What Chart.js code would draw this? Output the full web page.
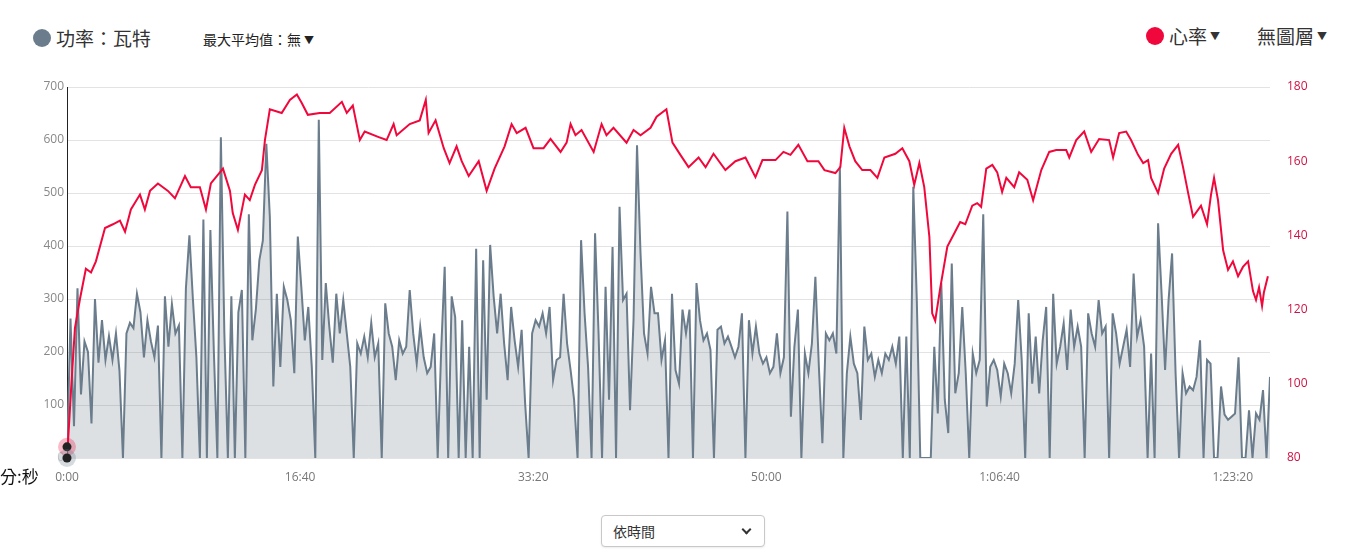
<!DOCTYPE html>
<html>
<head>
<meta charset="utf-8">
<script src="https://cdn.jsdelivr.net/npm/chart.js@4.4.1/dist/chart.umd.min.js"></script>
<style>
  body {
    margin: 0;
    width: 1345px;
    height: 555px;
    position: relative;
    overflow: hidden;
    background: #fff;
    font-family: "Noto Sans CJK TC", "Noto Sans", sans-serif;
    color: #222;
  }
  .legend { position: absolute; display: flex; align-items: center; white-space: nowrap; }
  .dot { width: 18px; height: 18px; border-radius: 50%; display: inline-block; margin-right: 5px; }
  .big { font-size: 19px; color: #333; }
  .small { font-size: 14px; }
  .arrow { font-size: 10px; margin-left: 3px; }
  #chartBox { position: absolute; left: 0; top: 70px; }
  #unit { position: absolute; left: 0; top: 463px; font-size: 17px; color: #111; }
  #mode {
    position: absolute; left: 601px; top: 515px; width: 164px; height: 32px;
    box-sizing: border-box; border: 1px solid #c8c8c8; border-radius: 4px;
    font-size: 14px; color: #333; padding: 5px 11px; background: #fff;
    box-shadow: 0 1px 2px rgba(0,0,0,0.08);
  }
  #mode .chev {
    position: absolute; right: 14px; top: 10px; width: 5px; height: 5px;
    border-right: 2px solid #333; border-bottom: 2px solid #333; transform: rotate(45deg);
  }
</style>
</head>
<body>
  <div class="legend big" style="left:33px; top:24px;">
    <span class="dot" style="background:#6b7d8c;"></span>功率：瓦特
  </div>
  <div class="legend small" style="left:203px; top:29px;">最大平均值：無<span class="arrow">▼</span></div>
  <div class="legend big" style="left:1146px; top:22px;">
    <span class="dot" style="background:#f0073b;"></span>心率<span class="arrow">▼</span>
  </div>
  <div class="legend big" style="left:1257px; top:22px;">無圖層<span class="arrow">▼</span></div>

  <canvas id="chartBox" width="1345" height="420"></canvas>
  <div id="unit">分:秒</div>
  <div id="mode">依時間<span class="chev"></span></div>

<script>
// power samples, one every POWER_STEP seconds from 0:00
const POWER_STEP = 15;
const powerWatts = [
  0, 263, 60, 320, 120, 220, 200, 65, 300, 180, 260, 185, 230, 185, 235, 165, 0, 235, 255, 245,
  310, 275, 190, 260, 220, 190, 250, 0, 305, 210, 290, 235, 250, 0, 320, 420, 300, 190, 0, 450,
  0, 430, 200, 0, 605, 235, 0, 305, 0, 275, 317, 0, 460, 222, 280, 373, 410, 593, 455, 135,
  310, 172, 323, 298, 260, 160, 418, 323, 222, 285, 172, 0, 638, 185, 330, 248, 180, 310, 235, 298,
  235, 172, 0, 216, 197, 229, 190, 255, 190, 216, 0, 292, 235, 210, 147, 222, 197, 210, 317, 235,
  178, 248, 190, 160, 172, 235, 0, 204, 361, 0, 305, 266, 0, 260, 0, 210, 0, 395, 0, 373,
  110, 402, 305, 235, 310, 216, 147, 285, 222, 172, 242, 103, 0, 235, 260, 248, 273, 235, 285, 147,
  185, 190, 310, 216, 166, 110, 0, 411, 273, 172, 0, 424, 235, 0, 323, 110, 398, 0, 474, 298,
  310, 90, 260, 590, 386, 235, 197, 323, 273, 273, 185, 222, 0, 310, 166, 140, 280, 235, 280, 0,
  330, 260, 222, 235, 204, 0, 242, 248, 216, 229, 210, 190, 210, 273, 0, 260, 197, 248, 197, 178,
  190, 160, 172, 235, 160, 190, 465, 78, 210, 280, 0, 197, 160, 216, 342, 172, 28, 235, 222, 235,
  197, 550, 0, 160, 229, 178, 160, 72, 248, 185, 197, 153, 185, 160, 197, 185, 210, 178, 229, 0,
  229, 0, 512, 298, 0, 0, 0, 0, 210, 84, 330, 110, 47, 367, 122, 160, 285, 160, 0, 197,
  160, 185, 460, 97, 172, 185, 166, 116, 178, 160, 122, 178, 298, 185, 0, 273, 140, 229, 122, 222,
  285, 0, 310, 178, 210, 254, 166, 280, 210, 248, 210, 0, 273, 235, 210, 298, 235, 248, 0, 273,
  235, 178, 210, 242, 172, 348, 229, 260, 210, 0, 197, 0, 443, 310, 166, 298, 386, 160, 0, 160,
  122, 135, 128, 153, 222, 0, 185, 178, 0, 0, 135, 82, 72, 78, 84, 190, 0, 0, 90, 0,
  84, 72, 128, 0, 153
];

// heart rate, read at irregular times (seconds)
const hrTimes = [
  0, 4, 17, 34, 56, 81, 103, 124, 163, 197, 227, 249, 274, 313, 334, 356, 390, 433, 463, 506,
  531, 570, 596, 617, 669, 699, 711, 733, 763, 784, 806, 836, 849, 870, 921, 956, 986, 1007, 1033, 1084,
  1127, 1179, 1200, 1226, 1256, 1277, 1337, 1371, 1401, 1414, 1470, 1513, 1539, 1551, 1581, 1616, 1641, 1671, 1693, 1723,
  1766, 1800, 1834, 1877, 1907, 1929, 1967, 2001, 2044, 2074, 2117, 2143, 2160, 2181, 2207, 2259, 2293, 2314, 2344, 2400,
  2430, 2460, 2503, 2529, 2571, 2597, 2631, 2666, 2709, 2739, 2773, 2824, 2867, 2910, 2953, 2983, 3039, 3073, 3103, 3137,
  3176, 3223, 3249, 3296, 3317, 3334, 3356, 3381, 3411, 3446, 3476, 3506, 3553, 3583, 3613, 3634, 3656, 3677, 3699, 3711,
  3724, 3746, 3776, 3806, 3831, 3853, 3883, 3904, 3921, 3943, 3969, 3990, 4011, 4029, 4063, 4084, 4119, 4144, 4179, 4213,
  4243, 4286, 4299, 4329, 4363, 4393, 4427, 4470, 4487, 4513, 4543, 4564, 4594, 4616, 4637, 4650, 4680, 4706, 4736, 4766,
  4787, 4809, 4830, 4864, 4890, 4907, 4920, 4937, 4959, 4980, 5001, 5023, 5044, 5066, 5087, 5100, 5113, 5126, 5134, 5151
];
const hrBpm = [
  83, 84, 98, 115, 123, 131, 130, 133, 142, 143, 144, 141, 147, 151, 147, 152, 154, 152, 150, 156,
  153, 153, 147, 154, 158, 152, 146, 141.5, 151, 149.5, 153.6, 157.6, 165.7, 174, 173, 176.5, 178, 175.7, 172.5, 173,
  173, 176, 173, 175, 165.7, 168, 166.5, 165.7, 170, 167, 170, 171, 176.5, 167.6, 171, 163.5, 159.5, 164, 160, 156,
  160, 152, 158, 164, 170, 167.6, 169, 163.5, 163.5, 166, 162.5, 165, 170, 167, 168.4, 162.5, 170, 167, 169, 165,
  168.4, 167, 169, 172, 174, 165, 161.7, 158.4, 161, 158.4, 162, 157.6, 160, 161, 155.7, 160.3, 160.3, 162.5, 161.7, 164.4,
  160, 160, 157.6, 156.8, 158.4, 169, 164, 160, 157.6, 157.6, 155.5, 161, 162, 163.5, 160, 153.6, 159.5, 153, 139.6, 119,
  117, 126, 137, 140.6, 143.6, 143, 148, 148.7, 147.7, 158, 159, 157, 151.7, 155.5, 153, 157, 155, 149.5, 157.6, 162.5,
  163, 163, 161, 165.7, 168, 162.5, 166, 165.7, 161, 167.6, 168, 165.7, 161.7, 159.5, 160.3, 155.5, 151.4, 158, 162, 164.4,
  158.4, 151.4, 145, 148, 143, 151, 155.5, 149.5, 136, 130.7, 133, 129, 131.5, 133, 125, 122.6, 126, 121, 124.7, 129
];

const powerTicks = [0, 100, 200, 300, 400, 500, 600, 700];
const hrTicks = [80, 100, 120, 140, 160, 180];
const timeTicks = [0, 1000, 2000, 3000, 4000, 5000];

const POWER_LINE = "#6b7d8c";
const POWER_FILL = "rgba(107,125,140,0.24)";
const HR_LINE = "#f0073b";
const TICK_FONT = { family: "'Open Sans', 'Noto Sans', sans-serif", size: 12 };

function formatTime(sec) {
  const h = Math.floor(sec / 3600);
  const m = Math.floor((sec % 3600) / 60);
  const s = Math.round(sec % 60);
  const ss = String(s).padStart(2, "0");
  if (h > 0) return h + ":" + String(m).padStart(2, "0") + ":" + ss;
  return m + ":" + ss;
}

// hover-style markers at the first sample of each series
const startMarkers = {
  id: "startMarkers",
  afterDatasetsDraw(chart) {
    const ctx = chart.ctx;
    chart.data.datasets.forEach((ds, i) => {
      const pt = chart.getDatasetMeta(i).data[0];
      if (!pt) return;
      ctx.save();
      ctx.fillStyle = ds.haloColor;
      ctx.beginPath();
      ctx.arc(pt.x, pt.y, 9, 0, Math.PI * 2);
      ctx.fill();
      ctx.fillStyle = "#222";
      ctx.beginPath();
      ctx.arc(pt.x, pt.y, 4.5, 0, Math.PI * 2);
      ctx.fill();
      ctx.restore();
    });
  },
};

const ctx = document.getElementById("chartBox");

new Chart(ctx, {
  type: "line",
  data: {
    datasets: [
      {
        label: "心率",
        data: hrTimes.map((t, i) => ({ x: t, y: hrBpm[i] })),
        yAxisID: "yHr",
        borderColor: HR_LINE,
        borderWidth: 2,
        pointRadius: 0,
        tension: 0,
        fill: false,
        haloColor: "rgba(240,7,59,0.28)",
      },
      {
        label: "功率",
        data: powerWatts.map((w, i) => ({ x: i * POWER_STEP, y: w })),
        yAxisID: "yPower",
        borderColor: POWER_LINE,
        backgroundColor: POWER_FILL,
        borderWidth: 2,
        pointRadius: 0,
        tension: 0,
        fill: "start",
        haloColor: "rgba(107,125,140,0.28)",
      },
    ],
  },
  options: {
    responsive: false,
    animation: false,
    layout: { padding: { top: 17, left: 0, right: 0, bottom: 0 } },
    plugins: {
      legend: { display: false },
      tooltip: { enabled: false },
    },
    scales: {
      x: {
        type: "linear",
        min: 0,
        max: 5160,
        grid: { display: false },
        border: { display: false },
        afterFit: (scale) => { scale.height = 32; },
        afterBuildTicks: (scale) => { scale.ticks = timeTicks.map((v) => ({ value: v })); },
        ticks: {
          padding: 4,
          color: "#777",
          font: TICK_FONT,
          maxRotation: 0,
          callback: (v) => formatTime(v),
        },
      },
      yPower: {
        position: "left",
        min: 0,
        max: 700,
        afterFit: (scale) => { scale.width = 67; },
        afterBuildTicks: (scale) => { scale.ticks = powerTicks.map((v) => ({ value: v })); },
        grid: { color: "#e3e3e3", drawTicks: false, lineWidth: 1 },
        border: { display: true, color: "#222", width: 1 },
        ticks: {
          padding: 3,
          font: TICK_FONT,
          color: (c) => (c.tick.value === 0 ? "#d6d6d6" : "#888"),
        },
      },
      yHr: {
        position: "right",
        min: 80,
        max: 180,
        afterFit: (scale) => { scale.width = 75; },
        afterBuildTicks: (scale) => { scale.ticks = hrTicks.map((v) => ({ value: v })); },
        // invisible tick marks push the labels away from the plot
        grid: {
          display: true,
          drawOnChartArea: false,
          drawTicks: true,
          tickLength: 15,
          color: "rgba(0,0,0,0)",
        },
        border: { display: false },
        ticks: { padding: 2, font: TICK_FONT, color: "#d01243" },
      },
    },
  },
  plugins: [startMarkers],
});
</script>
</body>
</html>
